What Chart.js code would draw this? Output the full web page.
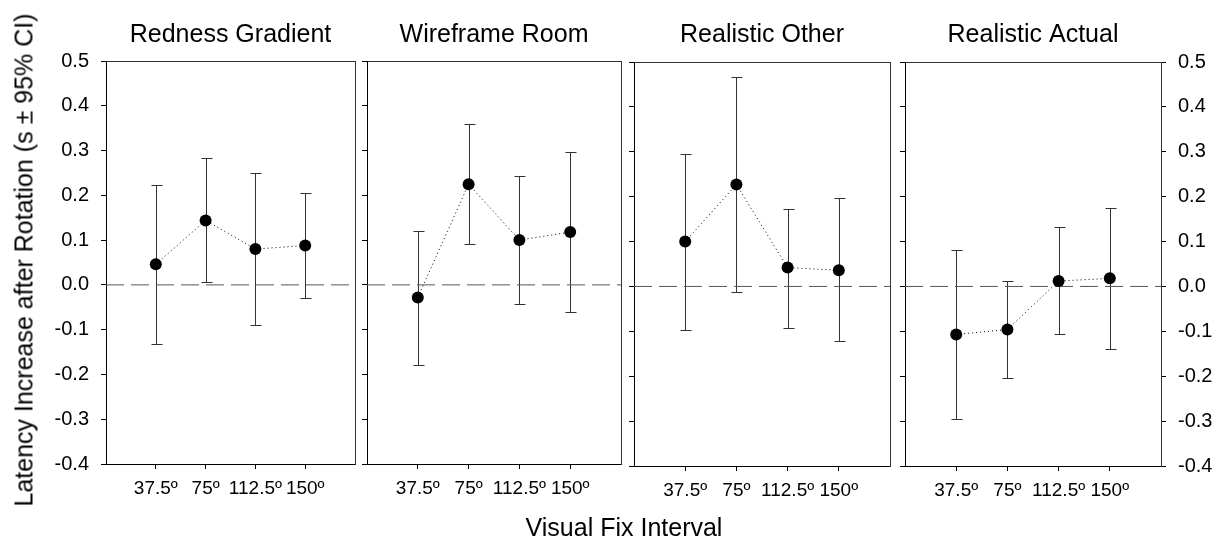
<!DOCTYPE html>
<html><head><meta charset="utf-8">
<script src="https://cdn.jsdelivr.net/npm/chart.js@4.4.1/dist/chart.umd.min.js"></script>
<style>
html,body{margin:0;padding:0;background:#fff;}
#wrap{position:relative;width:1223px;height:539px;overflow:hidden;font-family:'Liberation Sans',Arial,sans-serif;background:#fff;}
canvas{position:absolute;left:0;top:0;}
.t{position:absolute;white-space:nowrap;font-size:25px;line-height:25px;color:#000;}
#ytitle{left:24px;top:260px;transform:translate(-50%,-50%) rotate(-90deg);}
#xtitle{left:624px;top:527px;transform:translate(-50%,-50%);}
</style></head><body>
<div id="wrap">
<canvas id="c0" width="1223" height="539"></canvas>
<canvas id="c1" width="1223" height="539"></canvas>
<canvas id="c2" width="1223" height="539"></canvas>
<canvas id="c3" width="1223" height="539"></canvas>
<div class="t" id="ytitle">Latency Increase after Rotation (s ± 95% CI)</div>
<div class="t" id="xtitle">Visual Fix Interval</div>
</div>
<script>
// ---- data ----
const categories = ['37.5º', '75º', '112.5º', '150º'];
const panelTitles = ['Redness Gradient', 'Wireframe Room', 'Realistic Other', 'Realistic Actual'];
const yMin = -0.4, yMax = 0.5, yStep = 0.1;

const rednessMean = [0.046, 0.144, 0.080, 0.088];
const rednessLo   = [-0.131, 0.006, -0.090, -0.030];
const rednessHi   = [0.222, 0.283, 0.250, 0.205];

const wireframeMean = [-0.028, 0.225, 0.100, 0.118];
const wireframeLo   = [-0.178, 0.092, -0.042, -0.061];
const wireframeHi   = [0.121, 0.359, 0.244, 0.297];

const otherMean = [0.100, 0.227, 0.042, 0.036];
const otherLo   = [-0.096, -0.013, -0.092, -0.122];
const otherHi   = [0.294, 0.466, 0.173, 0.198];

const actualMean = [-0.107, -0.096, 0.012, 0.018];
const actualLo   = [-0.296, -0.204, -0.107, -0.139];
const actualHi   = [0.082, 0.012, 0.132, 0.175];

// ---- layout (pixel boxes of each panel's plot area) ----
const W = 1223, H = 539;
const FONT = "'Liberation Sans', Arial, sans-serif";
const panels = [
  {title: panelTitles[0], mean: rednessMean, lo: rednessLo, hi: rednessHi, l: 106, r: 355, t: 61, b: 464, leftLabels: true, rightAxis: false},
  {title: panelTitles[1], mean: wireframeMean, lo: wireframeLo, hi: wireframeHi, l: 367, r: 621, t: 61, b: 464, leftLabels: false, rightAxis: false},
  {title: panelTitles[2], mean: otherMean, lo: otherLo, hi: otherHi, l: 634, r: 890, t: 62, b: 466, leftLabels: false, rightAxis: false},
  {title: panelTitles[3], mean: actualMean, lo: actualLo, hi: actualHi, l: 905, r: 1161, t: 62, b: 466, leftLabels: false, rightAxis: true}
];

const errorBars = {
  id: 'errorBars',
  beforeDatasetsDraw(chart, args, opts) {
    const {ctx} = chart;
    const x = chart.scales.x, y = chart.scales.y;
    ctx.save();
    ctx.strokeStyle = opts.color;
    ctx.lineWidth = opts.width;
    const cap = opts.cap;
    opts.lo.forEach((lo, i) => {
      const px = Math.round(x.getPixelForValue(i + 1)) + 0.5;
      const y1 = Math.round(y.getPixelForValue(lo)) + 0.5;
      const y2 = Math.round(y.getPixelForValue(opts.hi[i])) + 0.5;
      ctx.beginPath();
      ctx.moveTo(px, y1); ctx.lineTo(px, y2);
      ctx.moveTo(px - cap, y1); ctx.lineTo(px + cap + 1, y1);
      ctx.moveTo(px - cap, y2); ctx.lineTo(px + cap + 1, y2);
      ctx.stroke();
    });
    ctx.restore();
  }
};

const fmt = v => (Math.abs(v) < 1e-9 ? '0.0' : v.toFixed(1));

panels.forEach((p, k) => {
  const xMin = 0, xMax = categories.length + 1;
  new Chart(document.getElementById('c' + k), {
    type: 'scatter',
    data: {
      datasets: [
        {
          data: p.mean.map((v, i) => ({x: i + 1, y: v})),
          showLine: true,
          borderColor: '#000',
          borderWidth: 1,
          borderDash: [1, 3],
          pointRadius: 6,
          pointHoverRadius: 6,
          pointBackgroundColor: '#000',
          pointBorderColor: '#000',
          pointBorderWidth: 0
        },
        {
          data: [{x: xMin, y: 0}, {x: xMax, y: 0}],
          showLine: true,
          borderColor: '#555',
          borderWidth: 1,
          borderDash: [18, 7],
          pointRadius: 0,
          pointHoverRadius: 0
        }
      ]
    },
    options: {
      responsive: false,
      animation: false,
      devicePixelRatio: 1,
      events: [],
      layout: {padding: 0},
      plugins: {
        legend: {display: false},
        tooltip: {enabled: false},
        errorBars: {lo: p.lo, hi: p.hi, color: '#333', width: 1, cap: 5}
      },
      scales: {
        x: {
          type: 'linear', position: 'bottom', min: xMin, max: xMax,
          afterBuildTicks: s => { s.ticks = categories.map((c, i) => ({value: i + 1})); },
          afterFit: s => { s.height = H - p.b; },
          ticks: {
            callback: v => categories[Math.round(v) - 1],
            font: {size: 19, family: FONT}, color: '#000', padding: 8,
            autoSkip: false, maxRotation: 0
          },
          grid: {display: true, drawOnChartArea: false, drawTicks: true, tickLength: 5, color: '#000', lineWidth: 1},
          border: {display: true, color: '#000', width: 1}
        },
        x2: {
          type: 'linear', position: 'top', min: xMin, max: xMax,
          afterFit: s => { s.height = p.t; },
          ticks: {display: false},
          grid: {display: false},
          border: {display: true, color: '#333', width: 1},
          title: {display: true, text: p.title, color: '#000', font: {size: 25, family: FONT}, padding: {top: 20, bottom: 0}}
        },
        y: {
          type: 'linear', position: 'left', min: yMin, max: yMax,
          afterFit: s => { s.width = p.l; },
          ticks: {
            display: p.leftLabels, stepSize: yStep, callback: fmt,
            font: {size: 20, family: FONT}, color: '#000', padding: 12
          },
          grid: {display: true, drawOnChartArea: false, drawTicks: true, tickLength: 5, color: '#000', lineWidth: 1},
          border: {display: true, color: '#000', width: 1}
        },
        y2: {
          type: 'linear', position: 'right', min: yMin, max: yMax,
          afterFit: s => { s.width = W - p.r; },
          ticks: {
            display: p.rightAxis, stepSize: yStep, callback: fmt,
            font: {size: 20, family: FONT}, color: '#000', padding: 12
          },
          grid: {display: p.rightAxis, drawOnChartArea: false, drawTicks: true, tickLength: 5, color: '#000', lineWidth: 1},
          border: {display: true, color: '#333', width: 1}
        }
      }
    },
    plugins: [errorBars]
  });
});
</script>
</body></html>
